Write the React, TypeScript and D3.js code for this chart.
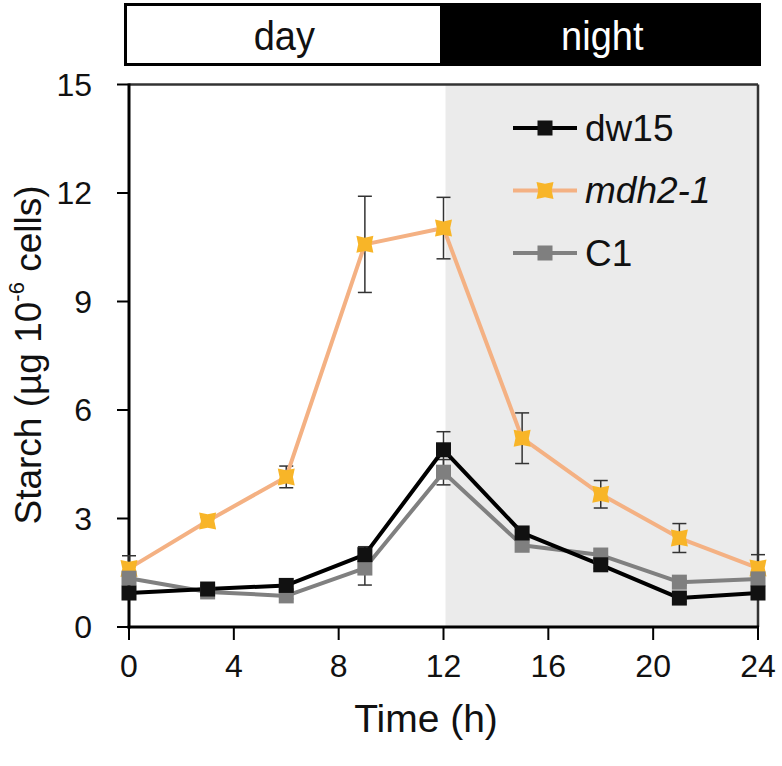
import React from "react";
import * as d3 from "d3";

const times = [0, 3, 6, 9, 12, 15, 18, 21, 24];
const dw15 = [0.94, 1.05, 1.15, 2.0, 4.9, 2.6, 1.72, 0.8, 0.94];
const dw15Err = [0.1, 0.1, 0.1, 0.22, 0.5, 0.15, 0.1, 0.1, 0.08];
const mdh = [1.62, 2.93, 4.15, 10.58, 11.03, 5.22, 3.67, 2.46, 1.63];
const mdhErr = [0.35, 0.1, 0.3, 1.33, 0.85, 0.7, 0.38, 0.4, 0.37];
const c1 = [1.35, 0.97, 0.86, 1.63, 4.28, 2.26, 1.99, 1.24, 1.33];
const c1Err = [0.1, 0.08, 0.08, 0.47, 0.35, 0.1, 0.08, 0.08, 0.08];
const xTicks = [0, 4, 8, 12, 16, 20, 24];
const yTicks = [0, 3, 6, 9, 12, 15];
const seriesNames = ["dw15", "mdh2-1", "C1"];

const FONT = "'Liberation Sans', Arial, sans-serif";

export default function App() {
  const x = d3.scaleLinear().domain([0, 24]).range([129, 758]);
  const y = d3.scaleLinear().domain([0, 15]).range([627, 84.5]);
  const line = d3
    .line<number>()
    .x((_, i) => x(times[i]))
    .y((d) => y(d));

  const series = [
    { name: seriesNames[0], vals: dw15, err: dw15Err, line: "#000000", mark: "#111111", shape: "sq", italic: false },
    { name: seriesNames[1], vals: mdh, err: mdhErr, line: "#F4B183", mark: "#F8B528", shape: "x", italic: true },
    { name: seriesNames[2], vals: c1, err: c1Err, line: "#808080", mark: "#7F7F7F", shape: "sq", italic: false },
  ];

  const marker = (s: any, cx: number, cy: number, key: string) => {
    if (s.shape === "sq") {
      return <rect key={key} x={cx - 7.5} y={cy - 7.5} width={15} height={15} fill={s.mark} />;
    }
    const r = 8.5;
    const k = 1.8;
    const p = `M${cx - r},${cy - r} L${cx},${cy - r + k} L${cx + r},${cy - r} L${cx + r - k},${cy} L${cx + r},${cy + r} L${cx},${cy + r - k} L${cx - r},${cy + r} L${cx - r + k},${cy} Z`;
    return <path key={key} d={p} fill={s.mark} />;
  };

  const T = (props: any) => {
    const { x: tx, y: ty, size, anchor, fill, italic, children, sx } = props;
    return (
      <g transform={`translate(${tx},${ty}) scale(${sx || 1},1)`}>
        <text
          x={0}
          y={0}
          fontSize={size}
          fontFamily={FONT}
          textAnchor={anchor || "middle"}
          dominantBaseline="central"
          fill={fill || "#111"}
          fontStyle={italic ? "italic" : "normal"}
        >
          {children}
        </text>
      </g>
    );
  };

  return (
    <svg
      width={782}
      height={766}
      style={{ position: "absolute", left: 0, top: 0, background: "#fff" }}
    >
      {/* day/night bar */}
      <rect x={x(12) - 2} y={3} width={761 - x(12) + 2} height={63} fill="#000" />
      <rect x={125.5} y={4.5} width={x(12) - 2 - 125.5} height={60} fill="#fff" stroke="#000" strokeWidth={3} />
      <T x={(125 + x(12)) / 2} y={36} size={40} sx={0.95}>day</T>
      <T x={(x(12) + 761) / 2} y={36} size={40} sx={0.95} fill="#fff">night</T>

      {/* night shading */}
      <rect x={x(12) + 2} y={y(15)} width={x(24) - x(12) - 2} height={y(0) - y(15)} fill="#EBEBEB" />
      {/* frame */}
      <line x1={x(0)} x2={x(24)} y1={y(15)} y2={y(15)} stroke="#333" strokeWidth={2.5} />
      <line x1={x(24)} x2={x(24)} y1={y(15)} y2={y(0)} stroke="#333" strokeWidth={2.5} />

      {/* axes */}
      <line x1={x(0)} x2={x(0)} y1={y(15) - 1} y2={y(0) + 1.5} stroke="#000" strokeWidth={3} />
      <line x1={x(0) - 1.5} x2={x(24) + 1} y1={y(0)} y2={y(0)} stroke="#000" strokeWidth={3} />
      {yTicks.map((t) => (
        <g key={"yt" + t}>
          <line x1={x(0) - 12} x2={x(0)} y1={y(t)} y2={y(t)} stroke="#000" strokeWidth={2} />
          <T x={92} y={y(t)} size={32} anchor="end">{t}</T>
        </g>
      ))}
      {xTicks.map((t) => (
        <g key={"xt" + t}>
          <line x1={x(t)} x2={x(t)} y1={y(0)} y2={y(0) + 13} stroke="#000" strokeWidth={2} />
          <T x={x(t)} y={666} size={32}>{t}</T>
        </g>
      ))}
      <T x={426} y={718} size={39}>Time (h)</T>
      <g transform={`translate(28,${355}) rotate(-90)`}>
        <text x={0} y={0} fontSize={37} fontFamily={FONT} textAnchor="middle" dominantBaseline="central" fill="#111">
          Starch (µg 10<tspan dy={-12} fontSize={22}>-6</tspan>
          <tspan dy={12}> cells)</tspan>
        </text>
      </g>

      {/* error bars */}
      {series.map((s) =>
        s.vals.map((v, i) => (
          <g key={s.name + "e" + i} stroke="#333" strokeWidth={1.5}>
            <line x1={x(times[i])} x2={x(times[i])} y1={y(v + s.err[i])} y2={y(v - s.err[i])} />
            <line x1={x(times[i]) - 7} x2={x(times[i]) + 7} y1={y(v + s.err[i])} y2={y(v + s.err[i])} />
            <line x1={x(times[i]) - 7} x2={x(times[i]) + 7} y1={y(v - s.err[i])} y2={y(v - s.err[i])} />
          </g>
        ))
      )}

      {/* lines */}
      {[series[1], series[2], series[0]].map((s) => (
        <path key={s.name + "l"} d={line(s.vals) || ""} fill="none" stroke={s.line} strokeWidth={4} strokeLinejoin="round" />
      ))}
      {[series[1], series[2], series[0]].map((s) => (
        <g key={s.name + "m"}>{s.vals.map((v, i) => marker(s, x(times[i]), y(v), s.name + i))}</g>
      ))}

      {/* legend */}
      {series.map((s, i) => {
        const ly = 128 + i * 62.5;
        return (
          <g key={s.name + "leg"}>
            <line x1={513} x2={577} y1={ly} y2={ly} stroke={s.line} strokeWidth={4} />
            {marker(s, 545, ly, s.name + "lm")}
            <T x={585} y={ly} size={37} anchor="start" italic={s.italic}>{s.name}</T>
          </g>
        );
      })}
    </svg>
  );
}
